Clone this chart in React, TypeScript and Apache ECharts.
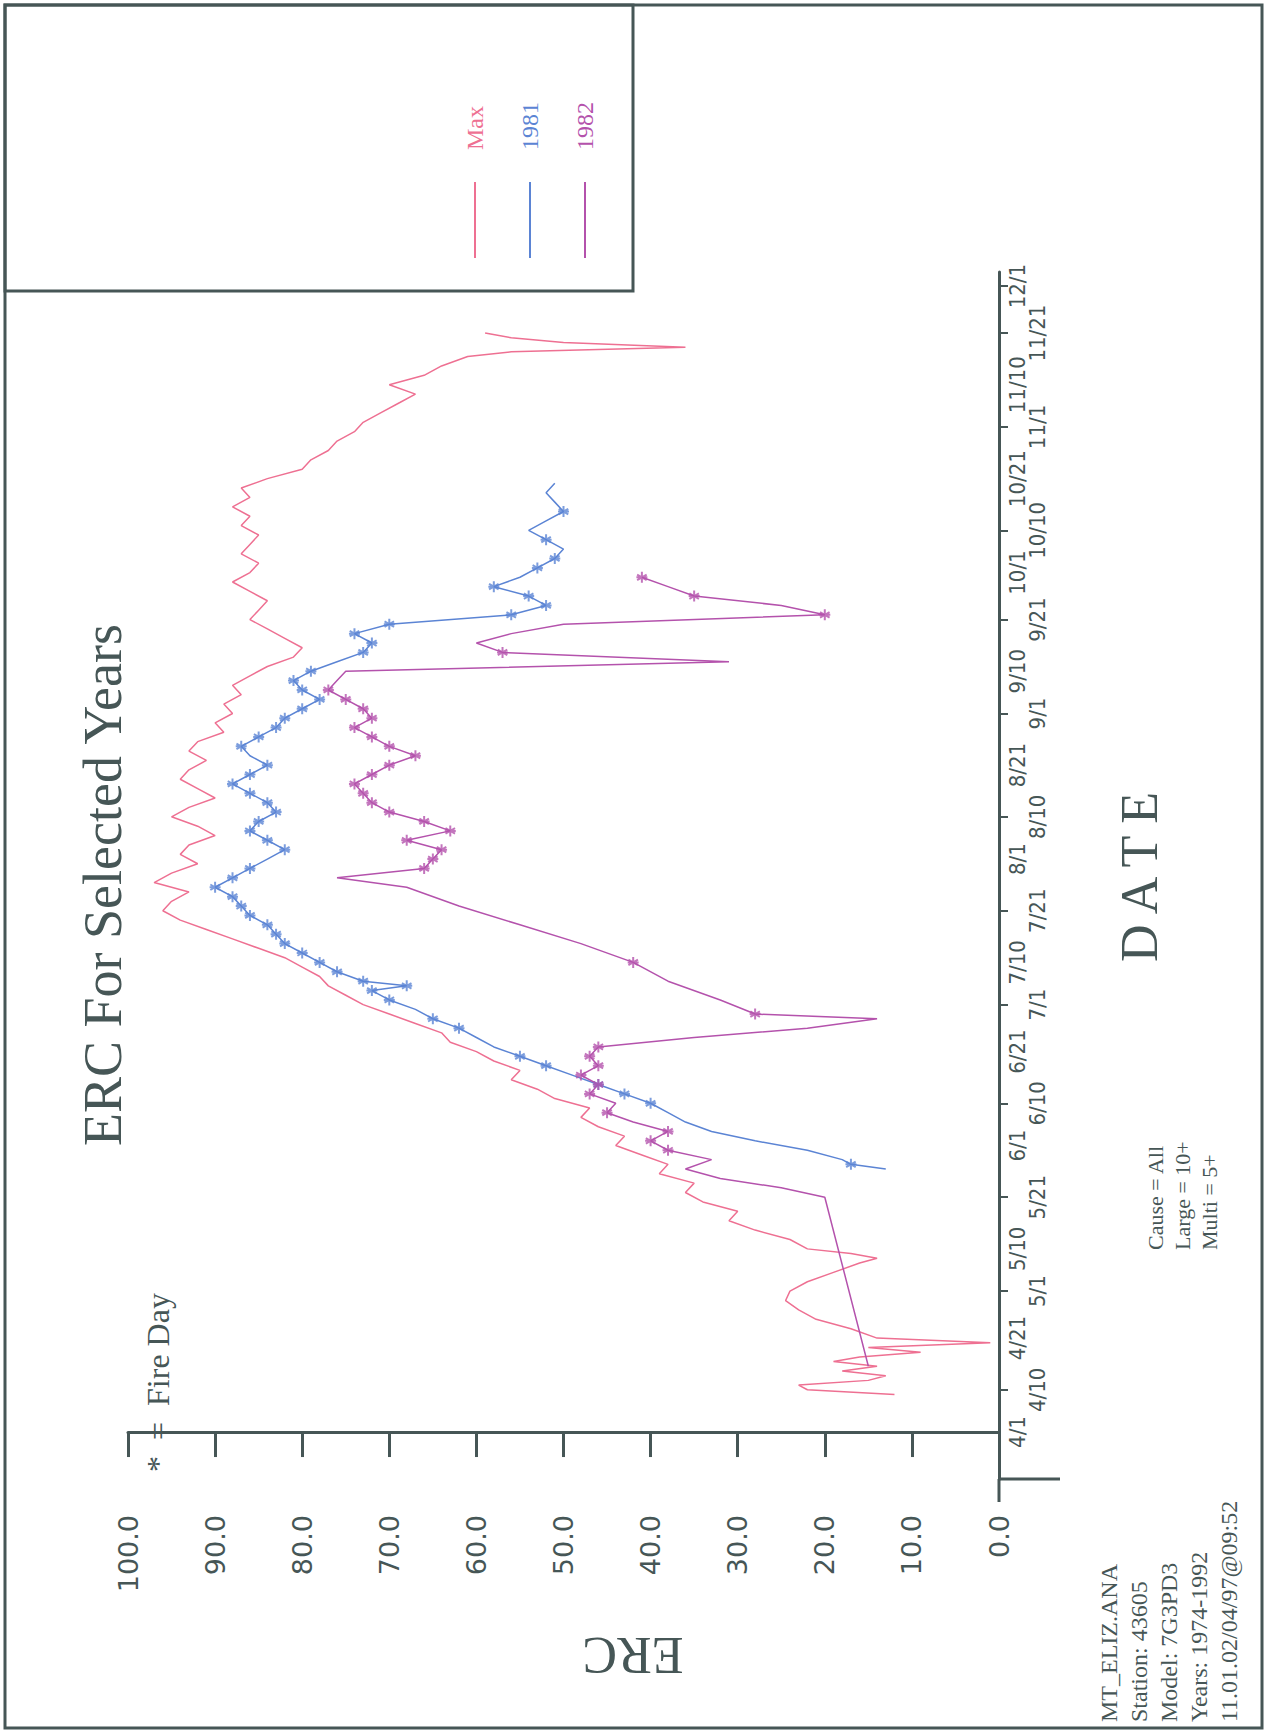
import React, { useEffect, useRef } from "react";
import * as echarts from "echarts";

// ---------- axis labels ----------
const valueTicks = [0, 10, 20, 30, 40, 50, 60, 70, 80, 90, 100];
const dateRow1 = ["4/1", "4/21", "5/10", "6/1", "6/21", "7/10", "8/1", "8/21", "9/10", "10/1", "10/21", "11/10", "12/1"];
const dateRow2 = ["4/10", "5/1", "5/21", "6/10", "7/1", "7/21", "8/10", "9/1", "9/21", "10/10", "11/1", "11/21"];
const seriesNames = ["Max", "1981", "1982"];

// ---------- series: [day since 4/1, ERC] ----------
const maxDays = [8, 9, 10, 11, 12, 13, 14, 15, 16, 17, 18, 19, 20, 22, 24, 26, 28, 30, 32, 34, 36, 37, 38, 39, 41, 43, 45, 47, 49, 51, 53, 55, 57, 59, 61, 63, 65, 67, 69, 71, 73, 75, 77, 79, 81, 83, 85, 87, 89, 91, 93, 95, 97, 99, 101, 103, 105, 107, 109, 111, 113, 115, 117, 119, 121, 123, 125, 127, 129, 131, 133, 135, 137, 139, 141, 143, 145, 147, 149, 151, 153, 155, 157, 159, 161, 163, 165, 167, 169, 171, 173, 175, 177, 179, 181, 183, 185, 187, 189, 191, 193, 195, 197, 199, 201, 203, 205, 207, 209, 211, 213, 215, 217, 219, 221, 223, 225, 227, 229, 230, 231, 232, 233, 234];
const maxValues = [12, 22, 23, 15, 13, 18, 14, 19, 16, 9, 15, 1, 14, 17, 21, 23, 24.5, 24, 22, 19, 16, 14, 17, 22, 24, 28, 31, 30, 34, 36, 35, 39, 38, 41, 44, 43, 46, 48, 47, 51, 53, 56, 55, 58, 60, 63, 64, 67, 70, 73, 75, 77, 78, 80, 82, 85, 88, 91, 94, 96, 95, 93, 97, 95, 92, 94, 93, 90, 92, 95, 93, 90, 92, 94, 93, 91, 93, 92, 89, 90, 88, 89, 87, 88, 86, 84, 81, 80, 82, 84, 86, 85, 84, 86, 88, 86, 85, 87, 86, 85, 87, 86, 88, 86, 87, 84, 80, 79, 77, 76, 74, 73, 71, 69, 67, 70, 66, 64, 61, 56, 36, 50, 56, 59];

const y1981Days = [56, 57, 58, 60, 62, 64, 66, 68, 70, 72, 74, 76, 78, 80, 82, 84, 86, 88, 90, 92, 94, 95, 96, 98, 100, 102, 104, 106, 108, 110, 112, 114, 116, 118, 120, 122, 124, 126, 128, 130, 132, 134, 136, 138, 140, 142, 144, 146, 148, 150, 152, 154, 156, 158, 160, 162, 164, 166, 168, 170, 172, 174, 176, 178, 180, 182, 184, 186, 188, 190, 192, 194, 196, 198, 200, 202];
const y1981Values = [13, 17, 18, 22, 28, 33, 36, 38, 40, 43, 46, 49, 52, 55, 58, 60, 62, 65, 67, 70, 72, 68, 73, 76, 78, 80, 82, 83, 84, 86, 87, 88, 90, 88, 86, 84, 82, 84, 86, 85, 83, 84, 86, 88, 86, 84, 86, 87, 85, 83, 82, 80, 78, 80, 81, 79, 76, 73, 72, 74, 70, 56, 52, 54, 58, 55, 53, 51, 50, 52, 54, 52, 50, 51, 52, 51];
const y1981Fire = [57, 70, 72, 74, 78, 80, 86, 88, 92, 94, 95, 96, 98, 100, 102, 104, 106, 108, 110, 112, 114, 116, 118, 120, 124, 126, 128, 130, 132, 134, 136, 138, 140, 142, 146, 148, 150, 152, 154, 156, 158, 160, 162, 166, 168, 170, 172, 174, 176, 178, 180, 184, 186, 190, 196];

const y1982Days = [14, 50, 52, 54, 56, 58, 60, 62, 64, 66, 68, 70, 72, 74, 76, 78, 80, 82, 84, 86, 88, 89, 92, 96, 100, 104, 108, 112, 116, 118, 120, 122, 124, 126, 128, 130, 132, 134, 136, 138, 140, 142, 144, 146, 148, 150, 152, 154, 156, 158, 160, 162, 164, 166, 168, 170, 172, 174, 176, 178, 180, 182];
const y1982Values = [15, 20, 25, 32, 36, 33, 38, 40, 38, 42, 45, 44, 47, 46, 48, 46, 47, 46, 35, 22, 14, 28, 32, 38, 42, 48, 55, 62, 68, 76, 66, 65, 64, 68, 63, 66, 70, 72, 73, 74, 72, 70, 67, 70, 72, 74, 72, 73, 75, 77, 76, 75, 31, 57, 60, 56, 50, 20, 25, 35, 38, 41];
const y1982Fire = [60, 62, 64, 68, 72, 74, 76, 78, 80, 82, 89, 100, 120, 122, 124, 126, 128, 130, 132, 134, 136, 138, 140, 142, 144, 146, 148, 150, 152, 154, 156, 158, 166, 174, 178, 182];

const COLORS = { max: "#ee7092", y81: "#5b84d4", y82: "#b452ac" };
const INK = "#465656";

const monthStart: Record<number, number> = { 4: 0, 5: 30, 6: 61, 7: 91, 8: 122, 9: 153, 10: 183, 11: 214, 12: 244 };
const dayOf = (s: string) => {
  const [m, d] = s.split("/").map(Number);
  return monthStart[m] + d - 1;
};
const labelFor: Record<number, string> = {};
[...dateRow1, ...dateRow2].forEach((s) => (labelFor[dayOf(s)] = s));

const pairs = (days: number[], vals: number[]) => days.map((d, i) => [vals[i], d]);
const firePts = (days: number[], vals: number[], fire: number[]) =>
  fire.map((f) => [vals[days.indexOf(f)], f]).filter((p) => p[0] !== undefined);

const STAR = "path://M0,-6L0,6M-5.2,-3L5.2,3M-5.2,3L5.2,-3M-6,0L6,0";

export default function App() {
  const ref = useRef<HTMLDivElement>(null);
  useEffect(() => {
    if (!ref.current) return;
    const chart = echarts.init(ref.current, undefined, { renderer: "svg" });
    const labelFont = "'DejaVu Sans Condensed', 'DejaVu Sans', sans-serif";
    const serif = "'Liberation Serif', 'DejaVu Serif', serif";
    const yBase = {
      type: "value",
      position: "right",
      min: -10,
      max: 247,
      splitLine: { show: false },
    };
    const legendX = [475, 530, 585];
    const legendColors = [COLORS.max, COLORS.y81, COLORS.y82];
    const graphic: any[] = [
      { type: "rect", shape: { x: 5, y: 5, width: 1257, height: 1723 }, style: { fill: "none", stroke: INK, lineWidth: 3 } },
      { type: "rect", shape: { x: 5, y: 5, width: 628, height: 286 }, style: { fill: "none", stroke: INK, lineWidth: 3 } },
      { type: "line", shape: { x1: 999, y1: 1479, x2: 999, y2: 1502 }, style: { stroke: INK, lineWidth: 3 } },
      { type: "line", shape: { x1: 999, y1: 1479, x2: 1060, y2: 1479 }, style: { stroke: INK, lineWidth: 3 } },
      {
        type: "text", x: 103, y: 885, rotation: Math.PI / 2,
        style: { text: "ERC For Selected Years", fill: INK, font: `54px ${serif}`, textAlign: "center", textVerticalAlign: "middle" },
      },
      {
        type: "text", x: 158, y: 1472, rotation: Math.PI / 2,
        style: { text: "*  =  Fire Day", fill: INK, font: `32px ${serif}`, textAlign: "left", textVerticalAlign: "middle" },
      },
      {
        type: "text", x: 1139, y: 877, rotation: Math.PI / 2,
        style: { text: "D A T E", fill: INK, font: `52px ${serif}`, textAlign: "center", textVerticalAlign: "middle" },
      },
      {
        type: "text", x: 633, y: 1655, rotation: Math.PI,
        style: { text: "ERC", fill: INK, font: `52px ${serif}`, textAlign: "center", textVerticalAlign: "middle" },
      },
      ...["Cause = All", "Large = 10+", "Multi = 5+"].map((t, i) => ({
        type: "text", x: 1155 + i * 27, y: 1250, rotation: Math.PI / 2,
        style: { text: t, fill: INK, font: `22px ${serif}`, textAlign: "left", textVerticalAlign: "middle" },
      })),
      ...["MT_ELIZ.ANA", "Station: 43605", "Model: 7G3PD3", "Years: 1974-1992", "11.01.02/04/97@09:52"].map((t, i) => ({
        type: "text", x: 1109 + i * 30, y: 1722, rotation: Math.PI / 2,
        style: { text: t, fill: INK, font: `24px ${serif}`, textAlign: "left", textVerticalAlign: "middle" },
      })),
      ...seriesNames.map((n, i) => ({
        type: "text", x: legendX[i], y: 150, rotation: Math.PI / 2,
        style: { text: n, fill: legendColors[i], font: `24px ${serif}`, textAlign: "left", textVerticalAlign: "middle" },
      })),
      ...seriesNames.map((n, i) => ({
        type: "line", shape: { x1: legendX[i], y1: 182, x2: legendX[i], y2: 258 },
        style: { stroke: legendColors[i], lineWidth: 2 },
      })),
    ];

    const lineSeries = (name: string, data: any[], color: string) => ({
      name, type: "line", data, xAxisIndex: 0, yAxisIndex: 0,
      showSymbol: false, symbol: "none", lineStyle: { color, width: 1.5 }, itemStyle: { color },
      silent: true, z: 2,
    });
    const fireSeries = (name: string, data: any[], color: string) => ({
      name: name + " fire", type: "scatter", data, xAxisIndex: 0, yAxisIndex: 0,
      symbol: STAR, symbolSize: 11, symbolKeepAspect: true,
      itemStyle: { color: "transparent", borderColor: color, borderWidth: 2 }, silent: true, z: 3,
    });

    chart.setOption({
      animation: false,
      backgroundColor: "#ffffff",
      grid: { left: 128, right: 266, top: 272, bottom: 254, containLabel: false },
      xAxis: {
        type: "value", inverse: true, min: 0, max: 100, interval: 10, position: "bottom",
        axisLine: { show: true, lineStyle: { color: INK, width: 3 } },
        axisTick: { show: true, length: 25, lineStyle: { color: INK, width: 3 } },
        axisLabel: {
          rotate: 90, align: "right", verticalAlign: "middle", margin: 36,
          formatter: (v: number) => (valueTicks.includes(v) ? v.toFixed(1) : ""),
          fontSize: 27, fontFamily: "'DejaVu Sans', sans-serif", color: INK,
        },
        splitLine: { show: false },
      },
      yAxis: [
        {
          ...yBase,
          axisLine: { show: true, lineStyle: { color: INK, width: 3 } },
          axisTick: { show: true, length: 9, inside: false, customValues: [...dateRow2.map(dayOf), 244], lineStyle: { color: INK, width: 2 } },
          axisLabel: {
            customValues: dateRow1.map(dayOf), rotate: 90, align: "center", verticalAlign: "top", margin: 7,
            formatter: (v: number) => labelFor[Math.round(v)] ?? "",
            fontSize: 22, fontFamily: labelFont, color: INK,
          },
        },
        {
          ...yBase,
          axisLine: { show: false },
          axisTick: { show: false },
          axisLabel: {
            customValues: dateRow2.map(dayOf), rotate: 90, align: "center", verticalAlign: "top", margin: 27,
            formatter: (v: number) => labelFor[Math.round(v)] ?? "",
            fontSize: 22, fontFamily: labelFont, color: INK,
          },
        },
      ],
      graphic,
      series: [
        lineSeries("Max", pairs(maxDays, maxValues), COLORS.max),
        lineSeries("1981", pairs(y1981Days, y1981Values), COLORS.y81),
        lineSeries("1982", pairs(y1982Days, y1982Values), COLORS.y82),
        fireSeries("1981", firePts(y1981Days, y1981Values, y1981Fire), COLORS.y81),
        fireSeries("1982", firePts(y1982Days, y1982Values, y1982Fire), COLORS.y82),
      ],
    });
    return () => chart.dispose();
  }, []);
  return <div ref={ref} style={{ position: "absolute", left: 0, top: 0, width: 1265, height: 1733, background: "#fff" }} />;
}
